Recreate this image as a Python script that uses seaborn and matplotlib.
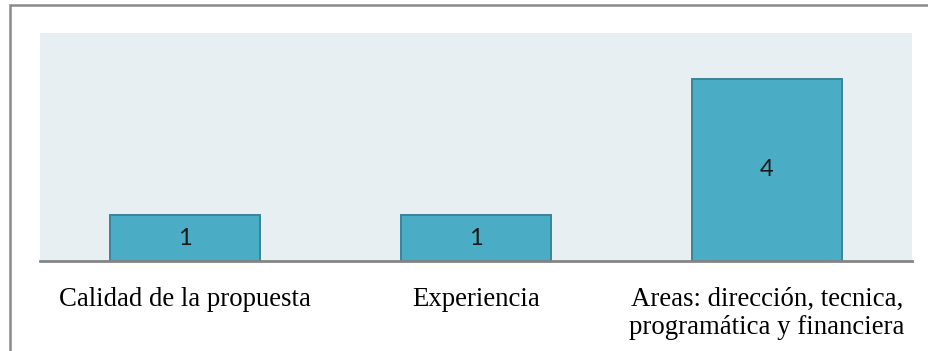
import matplotlib
matplotlib.use("Agg")
import matplotlib.pyplot as plt
import matplotlib.patches as mpatches
import pandas as pd
import seaborn as sns

# datos
categorias = ["Calidad de la propuesta", "Experiencia",
              "Areas: dirección, tecnica,\nprogramática y financiera"]
valores = [1, 1, 4]

df = pd.DataFrame({"Categoria": categorias, "Valor": valores})

sns.set_theme(style="white")
plt.rcParams["font.family"] = ["Liberation Serif", "DejaVu Serif"]

fig = plt.figure(figsize=(9.29, 3.51), dpi=100)
ax = fig.add_axes([40 / 929, 1 - 261 / 351, 872 / 929, 228 / 351])

color_barra = "#4BACC6"
sns.barplot(data=df, x="Categoria", y="Valor", hue="Categoria",
            palette=[color_barra] * 3, saturation=1, legend=False, width=0.516,
            edgecolor="#3A8498", linewidth=1.4, ax=ax)

for cont in ax.containers:
    ax.bar_label(cont, label_type="center", fontsize=17,
                 family=["Lato", "DejaVu Sans"], color="#1a1a1a")

ax.set_facecolor("#E8EFF3")
ax.set_xlim(-0.5, 2.5)
ax.set_ylim(0, 5)
ax.set_yticks([])
ax.set_xlabel("")
ax.set_ylabel("")
ax.tick_params(axis="x", length=0, pad=19, labelsize=19.3, labelcolor="black")
for lbl in ax.get_xticklabels():
    lbl.set_linespacing(1.15)
for s in ["top", "right", "left"]:
    ax.spines[s].set_visible(False)
ax.spines["bottom"].set_color("#858585")
ax.spines["bottom"].set_linewidth(2)

# marco exterior (solo se ve arriba y a la izquierda)
marco = mpatches.Rectangle((10.5 / 929, -0.2), 1.2, 1.2 - 4.5 / 351,
                           transform=fig.transFigure, fill=False,
                           edgecolor="#8A8A8A", linewidth=1.8, clip_on=False)
fig.add_artist(marco)

fig.savefig("out.png", dpi=100)
